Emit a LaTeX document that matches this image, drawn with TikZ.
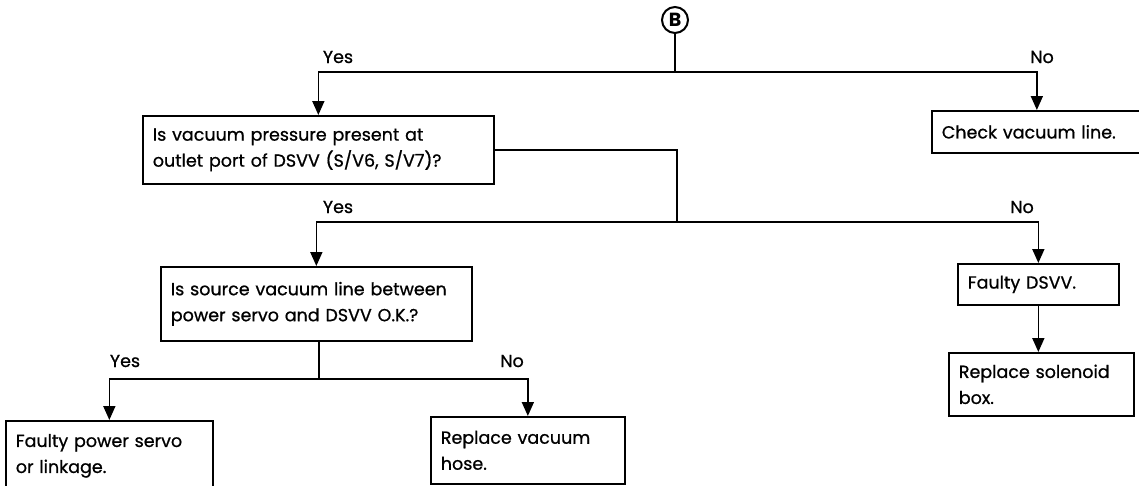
\documentclass[tikz,border=0pt]{standalone}
\usepackage{fontspec}
\setmainfont{Poppins}
\newfontfamily\flowfont{Poppins}[FakeBold=0.8]
\usetikzlibrary{arrows.meta}

\tikzset{
  box/.style={draw, line width=1.7pt, anchor=north west, align=left,
    inner xsep=10pt, inner ysep=0pt, font=\flowfont\fontsize{17.5}{26}\selectfont},
  flow/.style={line width=1.7pt},
  arr/.style={flow, -{Triangle[width=12pt,length=14pt]}},
  lbl/.style={font=\flowfont\fontsize{17.5}{20}\selectfont}
}

\begin{document}
\begin{tikzpicture}[x=1pt,y=-1pt]
  \clip (0,0) rectangle (1139,485);
  % start
  \node[circle,draw,flow,line width=2pt,minimum size=26pt,inner sep=0pt,font=\fontsize{19}{19}\selectfont\bfseries] (B) at (675,20) {B};
  % boxes
  \node[box,text width=331pt,minimum height=68pt] (q1) at (142,115) {Is vacuum pressure present at\\outlet port of DSVV (S/V6, S/V7)?};
  \node[box,text width=190pt,minimum height=42pt] (chk) at (931,110) {Check vacuum line.};
  \node[box,text width=291pt,minimum height=74pt] (q2) at (160,266) {Is source vacuum line between\\power servo and DSVV O.K.?};
  \node[box,text width=141pt,minimum height=41pt] (dsvv) at (957,263) {Faulty DSVV.};
  \node[box,text width=165pt,minimum height=63pt] (sol) at (948,352) {Replace solenoid\\box.};
  \node[box,text width=187pt,minimum height=70pt] (servo) at (5,420) {Faulty power servo\\or linkage.};
  \node[box,text width=174pt,minimum height=67pt] (hose) at (430,416) {Replace vacuum\\hose.};
  % junctions
  \coordinate (j1) at (675,72);
  \coordinate (j2) at (677,222);
  \coordinate (j3) at (319,379);
  % connectors
  \draw[flow] (B) -- (j1);
  \draw[arr] (j1) -| (q1.north);
  \draw[arr] (j1) -| (chk.north);
  \draw[flow] (q1.east) -| (j2);
  \draw[arr] (j2) -| (q2.north);
  \draw[arr] (j2) -| (dsvv.north);
  \draw[arr] (dsvv.south) -- (dsvv.south |- sol.north);
  \draw[flow] (q2.south -| j3) -- (j3);
  \draw[arr] (j3) -| (servo.north);
  \draw[arr] (j3) -| (hose.north);
  % answers
  \node[lbl] (y1) at (338,57) {Yes};
  \node[lbl] (n1) at (1042,57) {No};
  \node[lbl] (y2) at (338,207) {Yes};
  \node[lbl] (n2) at (1022,207) {No};
  \node[lbl] (y3) at (125,361) {Yes};
  \node[lbl] (n3) at (512,361) {No};
\end{tikzpicture}
\end{document}
